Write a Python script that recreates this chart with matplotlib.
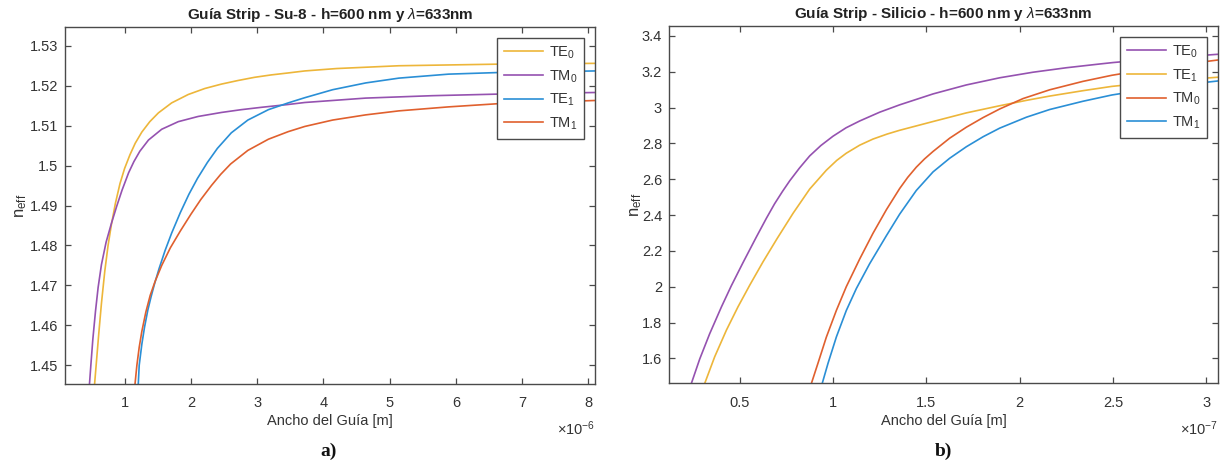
import matplotlib
matplotlib.use("Agg")
import matplotlib.pyplot as plt
from matplotlib.ticker import FuncFormatter

plt.rcParams["font.family"] = ["Liberation Sans", "DejaVu Sans"]
plt.rcParams["mathtext.fontset"] = "custom"
plt.rcParams["mathtext.rm"] = "Liberation Sans"
plt.rcParams["mathtext.it"] = "Liberation Sans:italic"
plt.rcParams["mathtext.bf"] = "Liberation Sans:bold"

# ── panel a) Su-8 : width in units of 1e-6 m ────────────────────────────────
su8_te0_x = [0.545, 0.575, 0.61, 0.65, 0.70, 0.75, 0.80, 0.86, 0.93, 1.00, 1.08, 1.16, 1.26,
             1.38, 1.51, 1.71, 1.96, 2.21, 2.46, 2.71, 2.96, 3.21, 3.47, 3.72, 4.2, 5.14,
             6.64, 8.1]
su8_te0_n = [1.445, 1.451, 1.458, 1.4655, 1.4735, 1.480, 1.4852, 1.4905, 1.4955, 1.4993, 1.5027,
             1.5056, 1.5084, 1.5110, 1.5132, 1.5157, 1.5178, 1.5193, 1.5204, 1.5213, 1.5221,
             1.5227, 1.5232, 1.5237, 1.5243, 1.5250, 1.5254, 1.5256]

su8_tm0_x = [0.468, 0.49, 0.52, 0.56, 0.60, 0.65, 0.72, 0.80, 0.88, 0.96, 1.06, 1.14, 1.23,
             1.36, 1.56, 1.81, 2.11, 2.46, 2.76, 3.07, 3.47, 3.72, 4.64, 5.64, 6.64, 8.1]
su8_tm0_n = [1.445, 1.450, 1.4565, 1.4635, 1.4695, 1.4752, 1.4808, 1.4855, 1.4898, 1.4938,
             1.4982, 1.5010, 1.5036, 1.5064, 1.5091, 1.5110, 1.5123, 1.5133, 1.5140, 1.5146,
             1.5153, 1.5158, 1.5169, 1.5175, 1.5179, 1.5183]

su8_te1_x = [1.205, 1.22, 1.26, 1.30, 1.35, 1.40, 1.45, 1.52, 1.61, 1.71, 1.84, 1.97, 2.10,
             2.25, 2.40, 2.61, 2.86, 3.17, 3.47, 3.72, 4.14, 4.64, 5.14, 5.89, 6.64, 8.1]
su8_te1_n = [1.445, 1.450, 1.4553, 1.4595, 1.4638, 1.4672, 1.4703, 1.4742, 1.4787, 1.4831,
             1.4882, 1.4928, 1.4968, 1.5008, 1.5043, 1.5082, 1.5114, 1.5140, 1.5157, 1.5170,
             1.5190, 1.5207, 1.5219, 1.5229, 1.5233, 1.5237]

su8_tm1_x = [1.155, 1.185, 1.22, 1.26, 1.32, 1.386, 1.46, 1.56, 1.69, 1.84, 2.0, 2.15, 2.31,
             2.45, 2.60, 2.86, 3.17, 3.47, 3.72, 4.14, 4.64, 5.14, 5.89, 6.64, 8.1]
su8_tm1_n = [1.445, 1.450, 1.4545, 1.4585, 1.4633, 1.4675, 1.4710, 1.4750, 1.4794, 1.4836,
             1.4878, 1.4915, 1.4950, 1.4978, 1.5004, 1.5038, 1.5066, 1.5085, 1.5098, 1.5114,
             1.5127, 1.5137, 1.5147, 1.5155, 1.5163]

# ── panel b) Silicio : width in units of 1e-7 m ─────────────────────────────
si_te0_x = [0.241, 0.286, 0.339, 0.402, 0.455, 0.518, 0.589, 0.643, 0.687, 0.73, 0.768, 0.82,
            0.875, 0.935, 1.0, 1.07, 1.143, 1.25, 1.357, 1.536, 1.714, 1.893, 2.071, 2.25,
            2.429, 2.5, 2.75, 3.06]
si_te0_n = [1.46, 1.597, 1.737, 1.887, 2.005, 2.135, 2.277, 2.382, 2.463, 2.533, 2.591, 2.662,
            2.730, 2.788, 2.840, 2.887, 2.925, 2.974, 3.015, 3.076, 3.126, 3.166, 3.197, 3.222,
            3.243, 3.251, 3.274, 3.297]

si_te1_x = [0.3125, 0.366, 0.429, 0.491, 0.554, 0.625, 0.70, 0.786, 0.875, 0.964, 1.02, 1.071,
            1.143, 1.214, 1.29, 1.357, 1.536, 1.714, 1.893, 2.036, 2.161, 2.339, 2.494, 2.75,
            3.06]
si_te1_n = [1.46, 1.609, 1.758, 1.888, 2.009, 2.139, 2.268, 2.410, 2.545, 2.650, 2.705, 2.745,
            2.790, 2.824, 2.852, 2.873, 2.922, 2.970, 3.010, 3.040, 3.064, 3.094, 3.118, 3.145,
            3.169]

si_tm0_x = [0.884, 0.919, 0.964, 1.018, 1.071, 1.143, 1.214, 1.286, 1.357, 1.40, 1.446, 1.49,
            1.536, 1.625, 1.714, 1.804, 1.893, 2.018, 2.161, 2.339, 2.494, 2.75, 3.06]
si_tm0_n = [1.46, 1.572, 1.718, 1.868, 2.000, 2.155, 2.298, 2.430, 2.548, 2.610, 2.667, 2.713,
            2.755, 2.829, 2.890, 2.944, 2.992, 3.050, 3.099, 3.146, 3.180, 3.224, 3.265]

si_tm1_x = [0.942, 0.973, 1.018, 1.071, 1.125, 1.196, 1.286, 1.357, 1.446, 1.536, 1.625, 1.714,
            1.804, 1.893, 2.036, 2.161, 2.339, 2.494, 2.75, 3.06]
si_tm1_n = [1.46, 1.572, 1.720, 1.867, 1.990, 2.128, 2.285, 2.405, 2.537, 2.641, 2.717, 2.781,
            2.837, 2.885, 2.946, 2.989, 3.035, 3.070, 3.112, 3.148]

YELLOW = "#EDB63A"
PURPLE = "#9552B0"
BLUE = "#2A8FD6"
ORANGE = "#E0602E"
AX_COL = "#4a4a4a"
TXT_COL = "#333333"

fig = plt.figure(figsize=(12.29, 4.65), dpi=100)
axA = fig.add_axes([0.0529, 0.1742, 0.4312, 0.7677])
axB = fig.add_axes([0.5443, 0.1753, 0.4467, 0.7688])


def style(ax, scale, exp_label):
    for s in ax.spines.values():
        s.set_color(AX_COL)
        s.set_linewidth(1.0)
    ax.tick_params(direction="in", top=True, right=True, length=4, width=0.9,
                   color=AX_COL, labelcolor=TXT_COL, labelsize=10.5)
    ax.tick_params(axis="x", pad=9)
    ax.tick_params(axis="y", pad=5)
    ax.xaxis.set_major_formatter(FuncFormatter(lambda v, p: f"{v / scale:g}"))
    ax.yaxis.set_major_formatter(FuncFormatter(lambda v, p: f"{v:g}"))
    ax.set_xlabel("Ancho del Guía [m]", fontsize=10.5, color=TXT_COL)
    ax.xaxis.set_label_coords(0.5, -0.085)
    ax.set_ylabel(r"$\mathregular{n_{eff}}$", fontsize=12, color=TXT_COL)
    ax.text(1.0, -0.10, exp_label, transform=ax.transAxes, ha="right", va="top",
            fontsize=10.5, color=TXT_COL)


# panel a
sA = 1e-6
axA.plot([v * sA for v in su8_te0_x], su8_te0_n, color=YELLOW, lw=1.2, label=r"$\mathregular{TE_0}$")
axA.plot([v * sA for v in su8_tm0_x], su8_tm0_n, color=PURPLE, lw=1.2, label=r"$\mathregular{TM_0}$")
axA.plot([v * sA for v in su8_te1_x], su8_te1_n, color=BLUE, lw=1.2, label=r"$\mathregular{TE_1}$")
axA.plot([v * sA for v in su8_tm1_x], su8_tm1_n, color=ORANGE, lw=1.2, label=r"$\mathregular{TM_1}$")
axA.set_xlim(0.1e-6, 8.1e-6)
axA.set_ylim(1.4453, 1.5347)
axA.set_xticks([i * sA for i in range(1, 9)])
axA.set_yticks([1.45, 1.46, 1.47, 1.48, 1.49, 1.50, 1.51, 1.52, 1.53])
style(axA, sA, r"$\times\mathregular{10^{-6}}$")
axA.yaxis.set_label_coords(-0.068, 0.5)
axA.set_title("Guía Strip - Su-8 - h=600 nm y $\\lambda$=633nm", fontsize=11,
              fontweight="bold", color="#222222", pad=6)

# panel b
sB = 1e-7
axB.plot([v * sB for v in si_te0_x], si_te0_n, color=PURPLE, lw=1.2, label=r"$\mathregular{TE_0}$")
axB.plot([v * sB for v in si_te1_x], si_te1_n, color=YELLOW, lw=1.2, label=r"$\mathregular{TE_1}$")
axB.plot([v * sB for v in si_tm0_x], si_tm0_n, color=ORANGE, lw=1.2, label=r"$\mathregular{TM_0}$")
axB.plot([v * sB for v in si_tm1_x], si_tm1_n, color=BLUE, lw=1.2, label=r"$\mathregular{TM_1}$")
axB.set_xlim(0.121e-7, 3.062e-7)
axB.set_ylim(1.46, 3.455)
axB.set_xticks([0.5 * sB, 1 * sB, 1.5 * sB, 2 * sB, 2.5 * sB, 3 * sB])
axB.set_yticks([1.6, 1.8, 2.0, 2.2, 2.4, 2.6, 2.8, 3.0, 3.2, 3.4])
style(axB, sB, r"$\times\mathregular{10^{-7}}$")
axB.yaxis.set_label_coords(-0.046, 0.5)
axB.set_title("Guía Strip - Silicio - h=600 nm y $\\lambda$=633nm", fontsize=11,
              fontweight="bold", color="#222222", pad=6)

for ax in (axA, axB):
    leg = ax.legend(loc="upper right", fontsize=10.5, handlelength=2.7, handletextpad=0.4,
                    labelspacing=0.5, borderpad=0.45, borderaxespad=0.75, fancybox=False,
                    framealpha=1.0, edgecolor=AX_COL)
    leg.get_frame().set_linewidth(1.0)
    for t in leg.get_texts():
        t.set_color(TXT_COL)

fig.text(0.267, 0.03, "a)", fontsize=14, fontweight="bold", family="Liberation Serif",
         ha="center", va="center", color="#111111")
fig.text(0.768, 0.03, "b)", fontsize=14, fontweight="bold", family="Liberation Serif",
         ha="center", va="center", color="#111111")

fig.savefig("out.png", dpi=100, facecolor="white")
